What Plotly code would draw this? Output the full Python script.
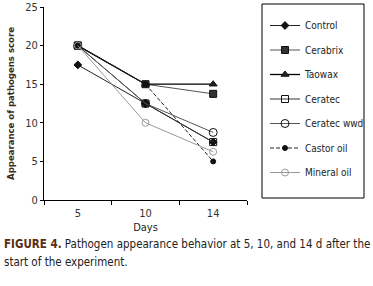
import plotly.graph_objects as go

days = ["5", "10", "14"]
series_names = ["Control", "Cerabrix", "Taowax", "Ceratec", "Ceratec wwd", "Castor oil", "Mineral oil"]
control = [17.5, 12.5, 7.5]
cerabrix = [20, 15, 13.75]
taowax = [20, 15, 15]
ceratec = [20, 12.5, 7.5]
ceratec_wwd = [20, 12.5, 8.75]
castor_oil = [20, 15, 5]
mineral_oil = [20, 10, 6.25]
y_ticks = [0, 5, 10, 15, 20, 25]

FONT = "DejaVu Sans Condensed, Liberation Sans Narrow, sans-serif"

L, R, T, B = 44, 126, 7, 86
W, H = 373, 286
PW, PH = W - L - R, H - T - B


def px_x(x):
    return (x - L) / PW


def px_y(y):
    return (H - B - y) / PH


styles = [
    dict(values=control, color="#222222", dash="solid", symbol="diamond", size=6, mcolor="#111111", fill="#111111", lw=1),
    dict(values=cerabrix, color="#555555", dash="solid", symbol="square", size=7, mcolor="#111111", fill="#333333", lw=1),
    dict(values=taowax, color="#000000", dash="solid", symbol="triangle-up", size=7, mcolor="#111111", fill="#222222", lw=1.3),
    dict(values=ceratec, color="#333333", dash="solid", symbol="square-open", size=7, mcolor="#111111", fill="white", lw=1),
    dict(values=ceratec_wwd, color="#555555", dash="solid", symbol="circle-open", size=8, mcolor="#111111", fill="white", lw=1),
    dict(values=castor_oil, color="#222222", dash="4px,2px", symbol="circle", size=5, mcolor="#111111", fill="#111111", lw=1),
    dict(values=mineral_oil, color="#9a9a9a", dash="solid", symbol="circle-open", size=7, mcolor="#9a9a9a", fill="white", lw=1),
]

fig = go.Figure()
for name, st in zip(series_names, styles):
    fig.add_trace(go.Scatter(
        x=days, y=st["values"], name=name, mode="lines+markers",
        line=dict(color=st["color"], width=st["lw"], dash=st["dash"]),
        marker=dict(symbol=st["symbol"], size=st["size"],
                    color=st["mcolor"] if "open" in st["symbol"] else st["fill"],
                    line=dict(color=st["mcolor"], width=1)),
        legendgroup=name,
    ))

fig.update_layout(
    width=W, height=H,
    margin=dict(l=L, r=R, t=T, b=B, autoexpand=False),
    paper_bgcolor="white", plot_bgcolor="white",
    font=dict(family=FONT, size=10, color="#333333"),
    showlegend=True,
    legend=dict(
        x=px_x(265), xanchor="left", y=px_y(11), yanchor="top",
        borderwidth=0, bgcolor="rgba(0,0,0,0)",
        font=dict(family=FONT, size=10, color="#222222"),
        tracegroupgap=5.5, itemwidth=30, maxheight=250,
    ),
    xaxis=dict(
        type="category", range=[-0.5, 2.5], tickson="boundaries",
        ticks="outside", ticklen=4, tickcolor="#000", showline=True, linecolor="#000", linewidth=1,
        showgrid=False, zeroline=False, tickfont=dict(size=11), ticklabelstandoff=3,
        title=dict(text="Days", font=dict(family=FONT, size=11, color="#222222"), standoff=4),
    ),
    yaxis=dict(
        range=[0, 25], tickvals=y_ticks, ticks="outside", ticklen=3, tickcolor="#000",
        showline=True, linecolor="#000", linewidth=1, showgrid=False, zeroline=False, tickfont=dict(size=11),
        title=dict(text="<b>Appearance of pathogens score</b>", font=dict(family=FONT, size=9.5, color="#3d2b1a"), standoff=8),
    ),
)

fig.add_shape(type="rect", xref="paper", yref="paper",
              x0=px_x(262), x1=px_x(364), y0=px_y(198), y1=px_y(4),
              line=dict(color="#000000", width=1), fillcolor="rgba(0,0,0,0)")

fig.add_annotation(
    xref="paper", yref="paper", x=px_x(2), y=px_y(244), xanchor="left", yanchor="middle",
    text="<b><span style='color:#5a2d12'>FIGURE 4.</span></b> Pathogen appearance behavior at 5, 10, and 14 d after the",
    showarrow=False, font=dict(family=FONT, size=11.5, color="#222222"), align="left",
)
fig.add_annotation(
    xref="paper", yref="paper", x=px_x(2), y=px_y(262), xanchor="left", yanchor="middle",
    text="start of the experiment.",
    showarrow=False, font=dict(family=FONT, size=11.5, color="#222222"), align="left",
)

fig.write_html("out.html", config={"displayModeBar": False},
               post_script="document.body.style.margin='0';document.body.style.padding='0';")
